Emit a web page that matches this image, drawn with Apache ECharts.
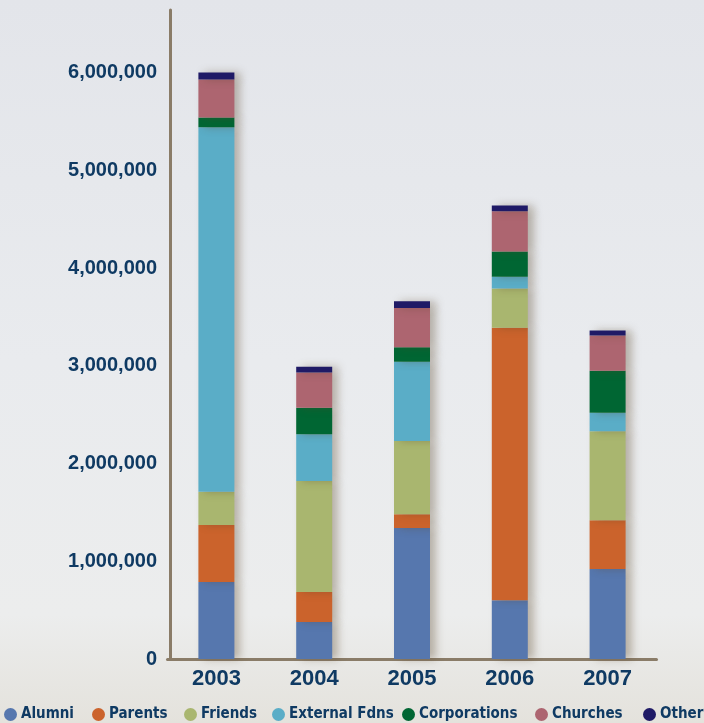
<!DOCTYPE html>
<html>
<head>
<meta charset="utf-8">
<script src="https://cdn.jsdelivr.net/npm/echarts@6/dist/echarts.min.js"></script>
<style>
html,body{margin:0;padding:0;}
body{width:704px;height:723px;background:linear-gradient(180deg,#e3e5ea 0%,#e9ebee 50%,#eceded 85%,#e4e2dc 100%);}
#c{width:704px;height:723px;}
</style>
</head>
<body>
<div id="c"></div>
<script>
const years = ['2003','2004','2005','2006','2007'];
const seriesNames = ['Alumni','Parents','Friends','External Fdns','Corporations','Churches','Other'];
const alumni      = [787000, 378000, 1340000, 600000, 920000];
const parents     = [583000, 307000, 140000, 2790000, 500000];
const friends     = [340000, 1135000, 750000, 400000, 910000];
const externalF   = [3730000, 480000, 810000, 120000, 190000];
const corporations= [100000, 270000, 150000, 260000, 430000];
const churches    = [390000, 360000, 400000, 410000, 360000];
const other       = [70000, 60000, 70000, 60000, 50000];
const yTicks = [0, 1000000, 2000000, 3000000, 4000000, 5000000, 6000000];

const colors = ['#5677ae','#cb632c','#a9b66f','#5aadc7','#006633','#ad6570','#1f1a66'];
const dataSets = [alumni, parents, friends, externalF, corporations, churches, other];
const navy = '#0f3a63';
const legendLeft = [4, 92, 184, 272, 402, 535, 643];

const chart = echarts.init(document.getElementById('c'));
chart.setOption({
  animation: false,
  grid: {left: 167.5, right: 47.5, top: 10, bottom: 64},
  legend: seriesNames.map((n, i) => ({
    top: 707, left: legendLeft[i], padding: 0,
    icon: 'circle', itemWidth: 17, itemHeight: 13, itemGap: 0,
    textStyle: {color: navy, fontFamily: "'DejaVu Sans Condensed', 'Liberation Sans'", fontWeight: 'bold', fontSize: 15, padding: [0,0,0,-3]},
    data: [n]
  })),
  xAxis: {
    type: 'category', data: years,
    axisLine: {lineStyle: {color: '#8a7c68', width: 3}},
    axisTick: {inside: true, length: 7, lineStyle: {color: '#8a7c68', width: 2}},
    axisLabel: {color: navy, fontFamily: 'Liberation Sans', fontWeight: 'bold', fontSize: 22, margin: 9}
  },
  yAxis: {
    type: 'value', min: 0, max: 6640000, interval: 1000000, offset: -2.5,
    axisLine: {show: true, lineStyle: {color: '#8a7c68', width: 3}},
    axisTick: {show: false},
    splitLine: {show: false},
    axisLabel: {showMaxLabel: false, color: navy, fontFamily: 'Liberation Sans', fontWeight: 'bold', fontSize: 20, margin: 13,
      padding: [0,0,8,0],
      formatter: v => yTicks.includes(v) ? v.toLocaleString('en-US') : ''}
  },
  series: seriesNames.map((n, i) => ({
    name: n, type: 'bar', stack: 'total', barWidth: 36,
    data: dataSets[i],
    itemStyle: {color: colors[i], shadowColor: 'rgba(90,70,40,0.35)', shadowBlur: 8, shadowOffsetX: 6}
  }))
});
</script>
</body>
</html>
